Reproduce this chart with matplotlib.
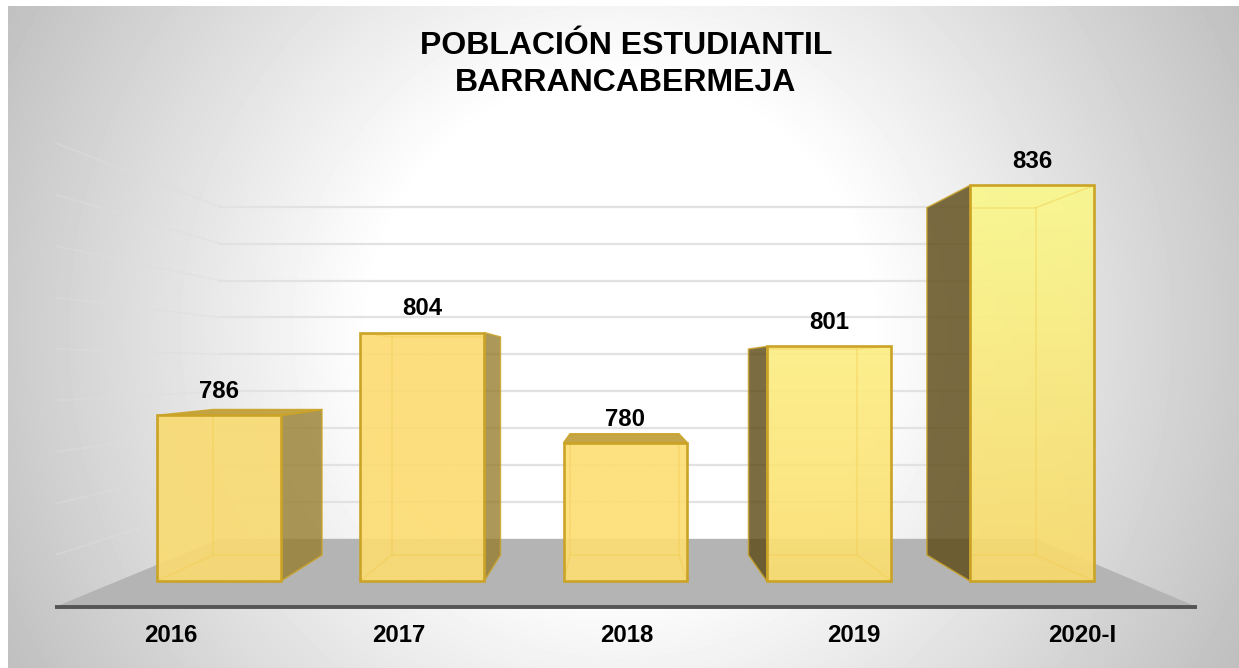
import numpy as np
import matplotlib
matplotlib.use("Agg")
import matplotlib.pyplot as plt
from matplotlib.patches import Polygon
from matplotlib.colors import to_rgb

years = ["2016", "2017", "2018", "2019", "2020-I"]
students = [786, 804, 780, 801, 836]
grid_values = [760, 770, 780, 790, 800, 810, 820, 830, 840]
title_lines = ["POBLACIÓN ESTUDIANTIL", "BARRANCABERMEJA"]

# face colours per bar, top and bottom of the front face
face_top = ["#F9DB72", "#FCDC72", "#FDDE74", "#FDEE84", "#FAF88C"]
face_bottom = ["#F9DB72", "#FCDC72", "#FDDE74", "#FBDE70", "#F8DA6C"]

W, H = 1239, 668
BASE = 750          # axis minimum
PX_CAT = 203.25     # px between bars on the front plane
PX_VAL = 4.6        # px per student on the front plane
X0, Y0 = 219, 581   # px of first bar centre / of the base line
BAR_W = 0.305       # half width, category units

# vanishing point in data units, depth scales of each plane
VX = (617 - X0) / PX_CAT
VV = BASE + (Y0 - 368) / PX_VAL
S_BAR = 0.878
S_WALL = 0.802
S_FRONT = 1.117
S_FLOOR = 1.122
S_LABEL = 1.12


def proj(x, v, s):
    return VX + (x - VX) * s, VV + (v - VV) * s


def wall_x(px):
    return (px - X0) / PX_CAT


fig = plt.figure(figsize=(W / 100, H / 100), dpi=100)
fig.patch.set_facecolor("white")

# radial background
bg = fig.add_axes([0, 0, 1, 1])
xx, yy = np.meshgrid(np.arange(8, W), np.arange(6, H))
r = np.hypot(xx - 620, yy - 330)
shade = 255 - np.clip((r - 250) / 450, 0, 1.05) * 64
bg.imshow(shade, cmap="gray", vmin=0, vmax=255, extent=(8, W, H, 6), aspect="auto")
bg.set_xlim(0, W)
bg.set_ylim(H, 0)
bg.axis("off")

ax = fig.add_axes([0, 0, 1, 1])
ax.patch.set_alpha(0)
ax.axis("off")

# floor
back_l, back_r = wall_x(220), wall_x(1036)
front_l, front_r = wall_x(55), wall_x(1197)
floor_front = proj(0, BASE, S_FLOOR)[1]
floor_back = proj(0, BASE, S_WALL)[1]
ax.add_patch(Polygon([(front_l, floor_front), (front_r, floor_front),
                      (back_r, floor_back), (back_l, floor_back)],
                     closed=True, facecolor="#B4B4B4", edgecolor="none", zorder=1))
ax.plot([front_l, front_r], [floor_front, floor_front], color="#555555", lw=2.8,
        solid_capstyle="butt", zorder=2)

# gridlines, back wall and left wall
for g in grid_values:
    vb = proj(0, g, S_WALL)[1]
    vf = proj(0, g, S_FRONT)[1]
    ax.plot([back_l, back_r], [vb, vb], color="#E2E2E2", lw=1.6, zorder=2)
    ax.plot([wall_x(57), back_l], [vf, vb], color="#DEDEDE", lw=1.3, alpha=0.45, zorder=2)

EDGE = "#CBA326"
for i, (val, name) in enumerate(zip(students, years)):
    l, rt = i - BAR_W, i + BAR_W
    bl = proj(l, BASE, S_BAR)
    br = proj(rt, BASE, S_BAR)
    tl = proj(l, val, S_BAR)
    tr = proj(rt, val, S_BAR)

    # sides that can be seen from the vanishing point
    if rt < VX and br[0] > rt:
        ax.add_patch(Polygon([(rt, BASE), br, tr, (rt, val)], closed=True,
                             facecolor="#977E2E", alpha=0.8, edgecolor="none", zorder=3))
        ax.add_patch(Polygon([(rt, BASE), br, tr, (rt, val)], closed=True,
                             fill=False, edgecolor=EDGE, lw=1.1, alpha=0.8, zorder=3.1))
    if l > VX and bl[0] < l:
        ax.add_patch(Polygon([(l, BASE), bl, tl, (l, val)], closed=True,
                             facecolor="#5A4713", alpha=0.8, edgecolor="none", zorder=3))
        ax.add_patch(Polygon([(l, BASE), bl, tl, (l, val)], closed=True,
                             fill=False, edgecolor=EDGE, lw=1.1, alpha=0.8, zorder=3.1))
    # top face when the bar ends below the horizon
    if val < VV:
        ax.add_patch(Polygon([(l, val), tl, tr, (rt, val)], closed=True,
                             facecolor="#BE9C34", alpha=0.9, edgecolor=EDGE, lw=1.2, zorder=3))

    # front face with vertical gradient
    grad = np.linspace(to_rgb(face_top[i]), to_rgb(face_bottom[i]), 64).reshape(64, 1, 3)
    im = ax.imshow(grad, extent=(l, rt, BASE, val), origin="upper", aspect="auto",
                   alpha=0.92, zorder=4, interpolation="bilinear")
    clip = Polygon([(l, BASE), (rt, BASE), (rt, val), (l, val)], closed=True,
                   transform=ax.transData, fill=False, edgecolor="none")
    ax.add_patch(clip)
    im.set_clip_path(clip)

    # faint inner edges seen through the front, only inside it
    inner = ax.add_patch(Polygon([bl, br, tr, tl], closed=True, fill=False,
                                 edgecolor="#F2CC50", lw=1.1, alpha=0.45, zorder=4.1))
    inner.set_clip_path(clip)
    for corner, back in [((l, BASE), bl), ((rt, BASE), br), ((l, val), tl), ((rt, val), tr)]:
        ln, = ax.plot([corner[0], back[0]], [corner[1], back[1]], color="#F2CC50", lw=1.1,
                      alpha=0.45, zorder=4.1)
        ln.set_clip_path(clip)
    ax.add_patch(Polygon([(l, BASE), (rt, BASE), (rt, val), (l, val)], closed=True,
                         fill=False, edgecolor=EDGE, lw=1.9, zorder=4.2))

    # value and category labels
    ax.annotate(str(val), (i, val), xytext=(0, 24 * 0.72), textcoords="offset points",
                ha="center", va="center", fontsize=17.3, fontweight="bold",
                family="Liberation Sans", color="black", zorder=6)
    lx = proj(i, BASE, S_LABEL)[0]
    ax.annotate(name, (lx, BASE), xytext=(0, -55 * 0.72), textcoords="offset points",
                ha="center", va="center", fontsize=17.3, fontweight="bold",
                family="Liberation Sans", color="black", zorder=6)

ax.set_xlim((0 - X0) / PX_CAT, (W - X0) / PX_CAT)
ax.set_ylim(BASE + (Y0 - H) / PX_VAL, BASE + Y0 / PX_VAL)

for line, py in zip(title_lines, [46, 83]):
    fig.text(626 / W, 1 - py / H, line, ha="center", va="center", fontsize=23,
             fontweight="bold", family="Liberation Sans", color="black")

fig.savefig("out.png", dpi=100)
plt.close(fig)
